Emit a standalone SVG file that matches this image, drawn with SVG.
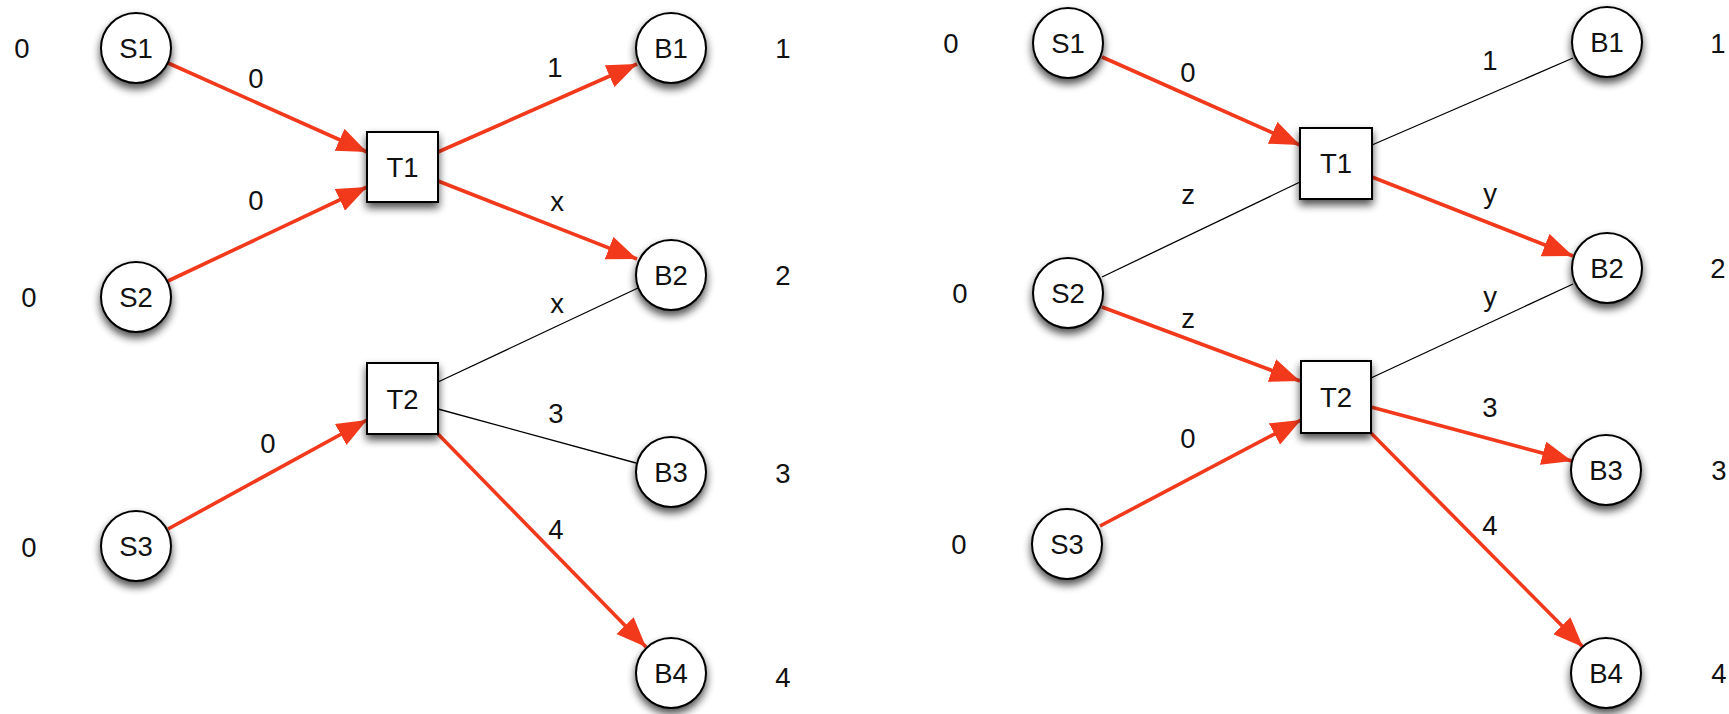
<svg xmlns="http://www.w3.org/2000/svg" width="1729" height="714" viewBox="0 0 1729 714">
<style>
.n{fill:#fff;stroke:#000;stroke-width:2;filter:url(#sh)}
.t{font-family:"Liberation Sans",Arial,sans-serif;font-size:27.5px;fill:#111;text-anchor:middle}
.r{stroke:#f2391c;stroke-width:3.6;fill:none;marker-end:url(#ah)}
.k{stroke:#000;stroke-width:1.3;fill:none}
</style>
<defs>
<filter id="sh" x="-40%" y="-40%" width="180%" height="190%">
<feGaussianBlur in="SourceAlpha" stdDeviation="4"/>
<feOffset dx="0" dy="5" result="b"/>
<feComponentTransfer><feFuncA type="linear" slope="0.7"/></feComponentTransfer>
<feMerge><feMergeNode/><feMergeNode in="SourceGraphic"/></feMerge>
</filter>
<marker id="ah" markerUnits="userSpaceOnUse" markerWidth="32" markerHeight="24" refX="30" refY="12" orient="auto">
<path d="M0,0 L30,12 L0,24 z" fill="#f2391c"/>
</marker>
</defs>

<g id="connectors">
<line class="r" x1="168" y1="63" x2="367" y2="152"/>
<line class="r" x1="168" y1="281" x2="367" y2="187"/>
<line class="r" x1="168" y1="529" x2="367" y2="420"/>
<line class="r" x1="438" y1="152" x2="637" y2="64"/>
<line class="r" x1="438" y1="181" x2="637" y2="259"/>
<line class="k" x1="438" y1="382" x2="638" y2="288"/>
<line class="k" x1="438" y1="409" x2="636" y2="463"/>
<line class="r" x1="438" y1="434" x2="646" y2="647"/>
<line class="r" x1="1102" y1="57" x2="1300" y2="145"/>
<line class="k" x1="1102" y1="277" x2="1300" y2="182"/>
<line class="r" x1="1102" y1="307" x2="1300" y2="381"/>
<line class="r" x1="1100" y1="526" x2="1301" y2="420"/>
<line class="k" x1="1372" y1="145" x2="1573" y2="58"/>
<line class="r" x1="1372" y1="177" x2="1573" y2="256"/>
<line class="k" x1="1371" y1="378" x2="1573" y2="284"/>
<line class="r" x1="1371" y1="407" x2="1572" y2="461"/>
<line class="r" x1="1371" y1="433" x2="1583" y2="647"/>
</g>

<g id="edge-labels">
<text class="t" x="256" y="88">0</text>
<text class="t" x="256" y="210">0</text>
<text class="t" x="268" y="453">0</text>
<text class="t" x="555" y="77">1</text>
<text class="t" x="557" y="211">x</text>
<text class="t" x="557" y="313">x</text>
<text class="t" x="556" y="423">3</text>
<text class="t" x="556" y="539">4</text>
<text class="t" x="1188" y="82">0</text>
<text class="t" x="1188" y="204">z</text>
<text class="t" x="1188" y="328">z</text>
<text class="t" x="1188" y="448">0</text>
<text class="t" x="1490" y="70">1</text>
<text class="t" x="1490" y="203">y</text>
<text class="t" x="1490" y="306">y</text>
<text class="t" x="1490" y="417">3</text>
<text class="t" x="1490" y="535">4</text>
</g>

<g id="side-labels">
<text class="t" x="22" y="58">0</text>
<text class="t" x="29" y="307">0</text>
<text class="t" x="29" y="557">0</text>
<text class="t" x="783" y="58">1</text>
<text class="t" x="783" y="285">2</text>
<text class="t" x="783" y="483">3</text>
<text class="t" x="783" y="687">4</text>
<text class="t" x="951" y="53">0</text>
<text class="t" x="960" y="303">0</text>
<text class="t" x="959" y="554">0</text>
<text class="t" x="1718" y="53">1</text>
<text class="t" x="1718" y="278">2</text>
<text class="t" x="1719" y="480">3</text>
<text class="t" x="1719" y="683">4</text>
</g>

<g id="L-S1"><circle class="n" cx="136" cy="48" r="35"/><text class="t" x="136" y="58">S1</text></g>
<g id="L-S2"><circle class="n" cx="136" cy="297" r="35"/><text class="t" x="136" y="307">S2</text></g>
<g id="L-S3"><circle class="n" cx="136" cy="546" r="35"/><text class="t" x="136" y="556">S3</text></g>
<g id="L-T1"><rect class="n" x="367" y="132" width="71" height="70"/><text class="t" x="402.5" y="177">T1</text></g>
<g id="L-T2"><rect class="n" x="367" y="363" width="71" height="71"/><text class="t" x="402.5" y="409">T2</text></g>
<g id="L-B1"><circle class="n" cx="671" cy="48" r="35"/><text class="t" x="671" y="58">B1</text></g>
<g id="L-B2"><circle class="n" cx="671" cy="275" r="35"/><text class="t" x="671" y="285">B2</text></g>
<g id="L-B3"><circle class="n" cx="671" cy="472" r="35"/><text class="t" x="671" y="482">B3</text></g>
<g id="L-B4"><circle class="n" cx="671" cy="673" r="35"/><text class="t" x="671" y="683">B4</text></g>

<g id="R-S1"><circle class="n" cx="1068" cy="43" r="35"/><text class="t" x="1068" y="53">S1</text></g>
<g id="R-S2"><circle class="n" cx="1068" cy="293" r="35"/><text class="t" x="1068" y="303">S2</text></g>
<g id="R-S3"><circle class="n" cx="1067" cy="544" r="35"/><text class="t" x="1067" y="554">S3</text></g>
<g id="R-T1"><rect class="n" x="1300" y="128" width="72" height="71"/><text class="t" x="1336" y="173">T1</text></g>
<g id="R-T2"><rect class="n" x="1301" y="361" width="70" height="72"/><text class="t" x="1336" y="407">T2</text></g>
<g id="R-B1"><circle class="n" cx="1607" cy="42" r="35"/><text class="t" x="1607" y="52">B1</text></g>
<g id="R-B2"><circle class="n" cx="1607" cy="268" r="35"/><text class="t" x="1607" y="278">B2</text></g>
<g id="R-B3"><circle class="n" cx="1606" cy="470" r="35"/><text class="t" x="1606" y="480">B3</text></g>
<g id="R-B4"><circle class="n" cx="1606" cy="673" r="35"/><text class="t" x="1606" y="683">B4</text></g>
</svg>
